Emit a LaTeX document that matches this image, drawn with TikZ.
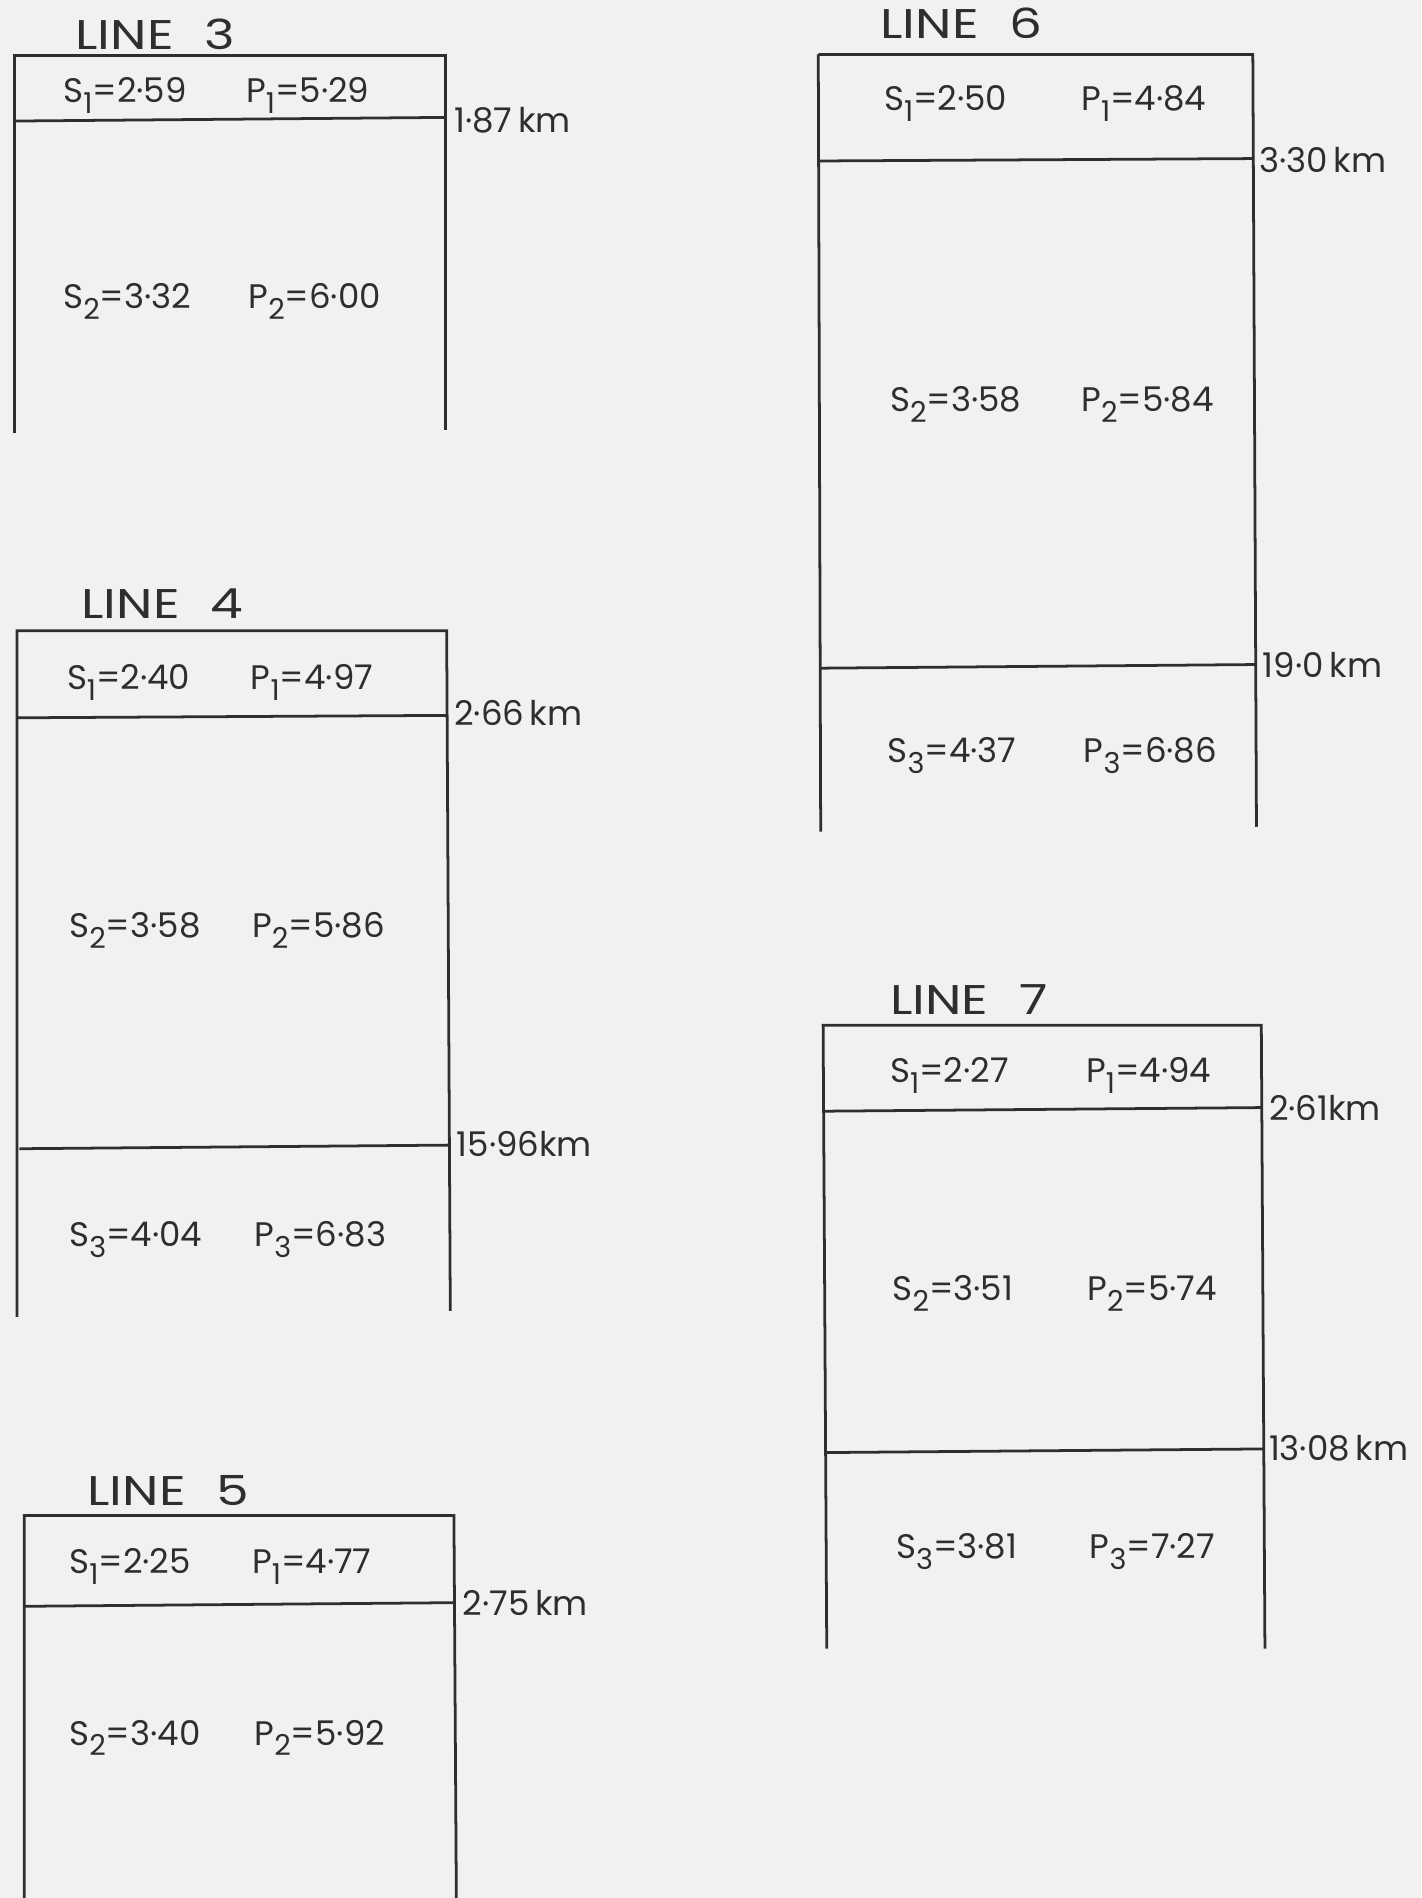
\documentclass[tikz,border=0pt]{standalone}
\usepackage{fontspec}
\setmainfont{Poppins}
\definecolor{paper}{HTML}{F1F1EF}
\definecolor{ink}{HTML}{2E2E2E}
\newcommand{\lowsub}[1]{\raisebox{-0.32em}{\fontsize{13.5}{13.5}\selectfont #1}}
\newcommand{\vel}[3]{#1\lowsub{#2}=#3}
\newcommand{\ttltext}[1]{\scalebox{1.25}[1]{LINE\hspace{0.6em}#1}}
\begin{document}
\begin{tikzpicture}[x=0.02cm,y=-0.02cm,
  box/.style={draw=ink,line width=1.3pt},
  lbl/.style={inner sep=0pt,anchor=west,text height=11pt,text depth=0pt,text=ink,font=\fontsize{16}{16}\selectfont},
  ttl/.style={inner sep=0pt,anchor=west,text height=13.5pt,text depth=0pt,text=ink,font=\fontsize{19.5}{20}\selectfont},
  km/.style={inner sep=0pt,anchor=west,text height=11pt,text depth=0pt,text=ink,font=\fontsize{16}{16}\selectfont}]
\fill[paper] (0,0) rectangle (1174,1568);
\useasboundingbox (0,0) rectangle (1174,1568);
% ---------- LINE 3 ----------
\node[ttl] (t3) at (62,29) {\ttltext{3}};
\draw[box] (12,358) -- (12,46) -- (368,46) -- (368,355);
\draw[box] (12,100) -- (368,97);
\node[lbl] (l3s1) at (52,75) {\vel{S}{1}{2·59}};
\node[lbl] (l3p1) at (203,75) {\vel{P}{1}{5·29}};
\node[km] (l3k1) at (375,100) {1·87\,km};
\node[lbl] (l3s2) at (52,245) {\vel{S}{2}{3·32}};
\node[lbl] (l3p2) at (205,245) {\vel{P}{2}{6·00}};
% ---------- LINE 4 ----------
\node[ttl] (t4) at (67,499) {\ttltext{4}};
\draw[box] (14,1088) -- (14,521) -- (369,521) -- (372,1083);
\draw[box] (14,593) -- (369,591);
\draw[box] (16,949) -- (371,946);
\node[lbl] (l4s1) at (55,560) {\vel{S}{1}{2·40}};
\node[lbl] (l4p1) at (207,560) {\vel{P}{1}{4·97}};
\node[km] (l4k1) at (375,590) {2·66\,km};
\node[lbl] (l4s2) at (57,765) {\vel{S}{2}{3·58}};
\node[lbl] (l4p2) at (208,765) {\vel{P}{2}{5·86}};
\node[km] (l4k2) at (377,946) {15·96km};
\node[lbl] (l4s3) at (57,1020) {\vel{S}{3}{4·04}};
\node[lbl] (l4p3) at (210,1020) {\vel{P}{3}{6·83}};
% ---------- LINE 5 ----------
\node[ttl] (t5) at (72,1232) {\ttltext{5}};
\draw[box] (20,1568) -- (20,1252) -- (375,1252) -- (377,1568);
\draw[box] (20,1327) -- (376,1324);
\node[lbl] (l5s1) at (57,1290) {\vel{S}{1}{2·25}};
\node[lbl] (l5p1) at (208,1290) {\vel{P}{1}{4·77}};
\node[km] (l5k1) at (382,1325) {2·75\,km};
\node[lbl] (l5s2) at (57,1432) {\vel{S}{2}{3·40}};
\node[lbl] (l5p2) at (210,1432) {\vel{P}{2}{5·92}};
% ---------- LINE 6 ----------
\node[ttl] (t6) at (727,20) {\ttltext{6}};
\draw[box] (676,45) -- (1035,45) -- (1038,683);
\draw[box] (676,45) -- (678,687);
\draw[box] (676,133) -- (1036,131);
\draw[box] (678,552) -- (1037,549);
\node[lbl] (l6s1) at (730,82) {\vel{S}{1}{2·50}};
\node[lbl] (l6p1) at (893,82) {\vel{P}{1}{4·84}};
\node[km] (l6k1) at (1040,133) {3·30\,km};
\node[lbl] (l6s2) at (735,330) {\vel{S}{2}{3·58}};
\node[lbl] (l6p2) at (893,330) {\vel{P}{2}{5·84}};
\node[km] (l6k2) at (1043,550) {19·0\,km};
\node[lbl] (l6s3) at (733,620) {\vel{S}{3}{4·37}};
\node[lbl] (l6p3) at (895,620) {\vel{P}{3}{6·86}};
% ---------- LINE 7 ----------
\node[ttl] (t7) at (735,826) {\ttltext{7}};
\draw[box] (683,1362) -- (680,847) -- (1042,847) -- (1045,1362);
\draw[box] (680,918) -- (1042,915);
\draw[box] (682,1200) -- (1044,1197);
\node[lbl] (l7s1) at (735,885) {\vel{S}{1}{2·27}};
\node[lbl] (l7p1) at (897,885) {\vel{P}{1}{4·94}};
\node[km] (l7k1) at (1048,916) {2·61km};
\node[lbl] (l7s2) at (737,1065) {\vel{S}{2}{3·51}};
\node[lbl] (l7p2) at (898,1065) {\vel{P}{2}{5·74}};
\node[km] (l7k2) at (1048,1197) {13·08\,km};
\node[lbl] (l7s3) at (740,1278) {\vel{S}{3}{3·81}};
\node[lbl] (l7p3) at (900,1278) {\vel{P}{3}{7·27}};
\end{tikzpicture}
\end{document}
